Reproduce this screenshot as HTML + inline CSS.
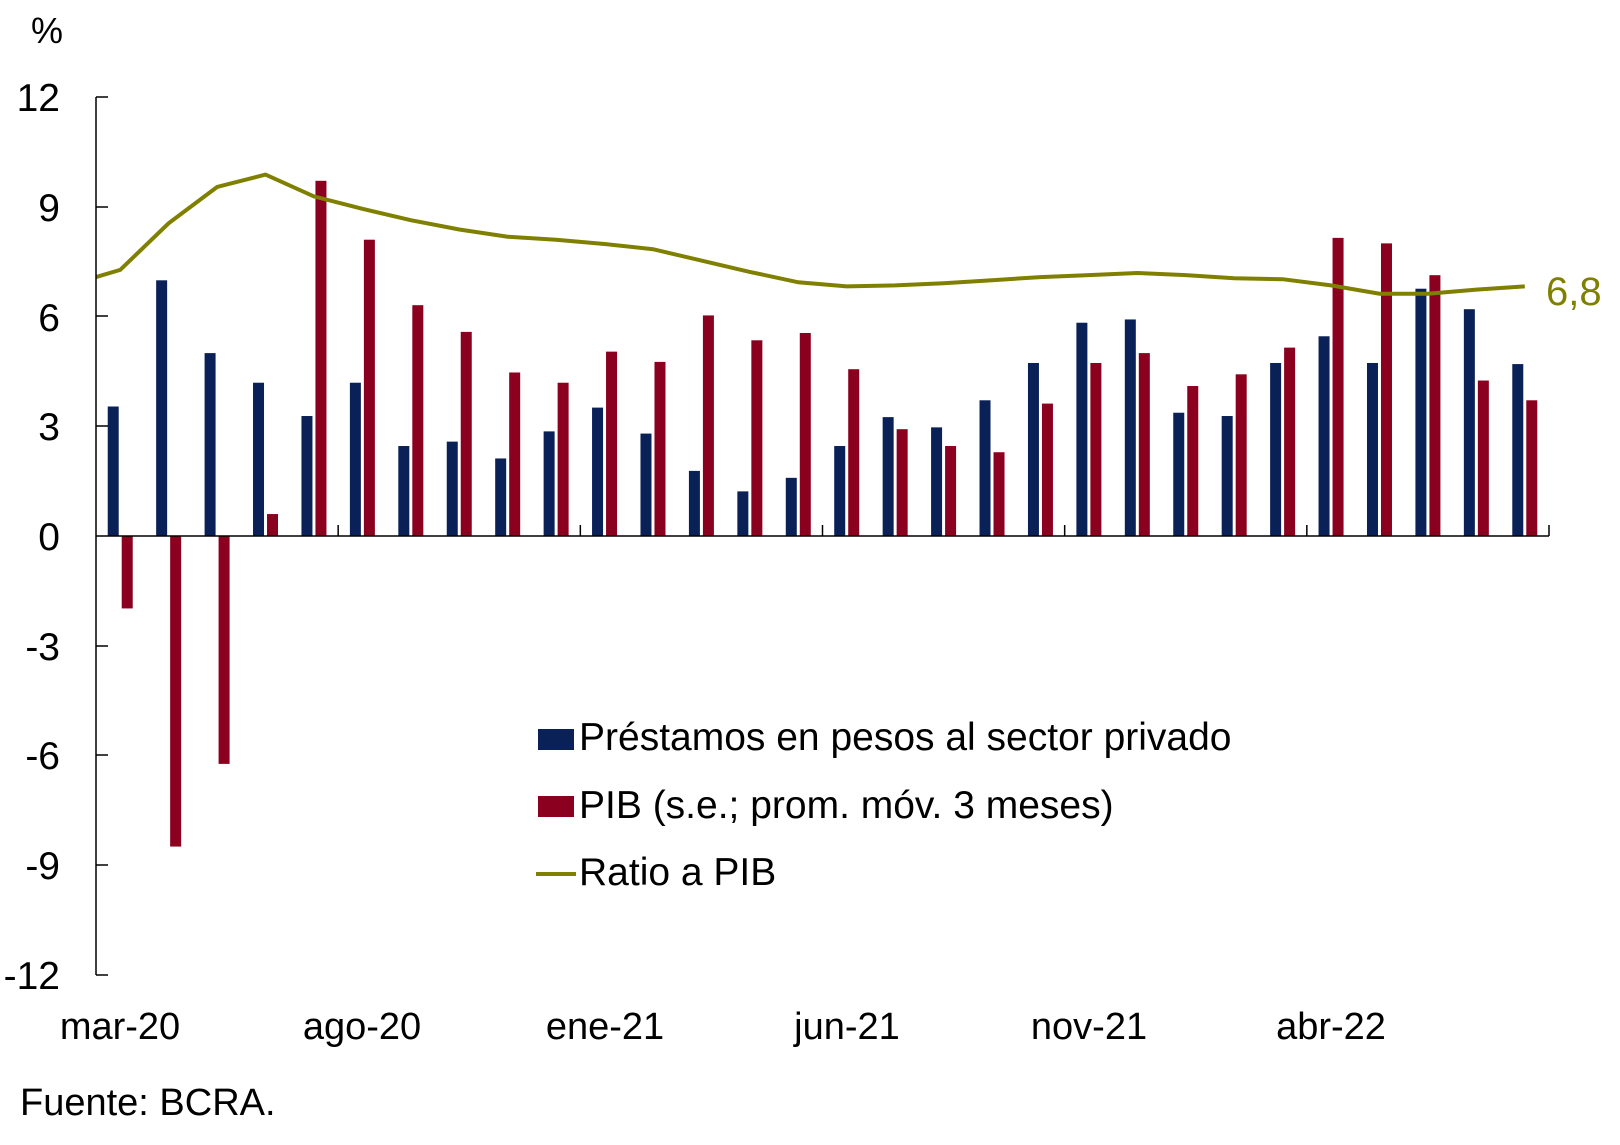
<!DOCTYPE html>
<html><head><meta charset="utf-8"><style>
html,body{margin:0;padding:0;background:#fff;}
svg{display:block;font-family:"Liberation Sans",Arial,sans-serif;}
</style></head><body>
<svg id="c" width="1620" height="1145" xmlns="http://www.w3.org/2000/svg">
<g font-size="39" fill="#000" text-anchor="end">
<text x="60" y="111">12</text>
<text x="60" y="221">9</text>
<text x="60" y="331">6</text>
<text x="60" y="440">3</text>
<text x="60" y="550">0</text>
<text x="60" y="660">-3</text>
<text x="60" y="769">-6</text>
<text x="60" y="879">-9</text>
<text x="60" y="989">-12</text>
</g>
<text x="47" y="43" font-size="36" text-anchor="middle">%</text>
<g font-size="38" text-anchor="middle">
<text x="120" y="1039">mar-20</text>
<text x="362" y="1039">ago-20</text>
<text x="605" y="1039">ene-21</text>
<text x="847" y="1039">jun-21</text>
<text x="1089" y="1039">nov-21</text>
<text x="1331" y="1039">abr-22</text>
</g>
<text x="20" y="1115" font-size="38">Fuente: BCRA.</text>
<g id="plot"></g>
<line x1="96" y1="97" x2="96" y2="975" stroke="#000" stroke-width="1.5"/>
<g stroke="#000" stroke-width="1.5">
<line x1="96" y1="97" x2="108" y2="97"/><line x1="96" y1="207" x2="108" y2="207"/>
<line x1="96" y1="316" x2="108" y2="316"/><line x1="96" y1="426" x2="108" y2="426"/>
<line x1="96" y1="646" x2="108" y2="646"/><line x1="96" y1="755" x2="108" y2="755"/>
<line x1="96" y1="865" x2="108" y2="865"/><line x1="96" y1="975" x2="108" y2="975"/>
</g>
<line x1="96" y1="536" x2="1549" y2="536" stroke="#000" stroke-width="1.5"/>
<g id="ticks" stroke="#000" stroke-width="1.5"></g>
<text x="1546" y="305" font-size="40" fill="#808000">6,8</text>
<rect x="538" y="729" width="36" height="21" fill="#0a2158"/>
<text x="579" y="750" font-size="39">Préstamos en pesos al sector privado</text>
<rect x="538" y="796" width="36" height="21" fill="#8b001f"/>
<text x="579" y="818" font-size="39">PIB (s.e.; prom. móv. 3 meses)</text>
<line x1="536" y1="874" x2="576" y2="874" stroke="#808000" stroke-width="4"/>
<text x="579" y="885" font-size="39">Ratio a PIB</text>
</svg>
<script>
var blue=[3.54,6.99,5.0,4.19,3.28,4.19,2.46,2.58,2.12,2.86,3.51,2.8,1.78,1.22,1.59,2.46,3.25,2.97,3.71,4.73,5.83,5.92,3.37,3.28,4.73,5.46,4.73,6.76,6.2,4.7];
var red=[-1.98,-8.49,-6.23,0.6,9.71,8.1,6.31,5.58,4.47,4.19,5.04,4.76,6.03,5.35,5.55,4.56,2.92,2.46,2.29,3.62,4.73,5.0,4.1,4.42,5.15,8.15,8.0,7.13,4.25,3.71];
var ly=[261,216,181,169,190,202,213,222,229,232,236,241,252,263,273,277,276,274,271,268,266,264,266,269,270,276,284,284,280,277];
var Y=function(v){return 536-v*36.58;};
var g=document.getElementById('plot'),s='';
var step=1453/30;
for(var i=0;i<30;i++){
 var c=96+step*(i+0.5);
 var yb=Y(blue[i]);s+='<rect x="'+(c-12.5)+'" y="'+yb+'" width="11" height="'+(536-yb)+'" fill="#0a2158"/>';
 var yr=Y(red[i]);var t=Math.min(yr,536),h=Math.abs(536-yr);
 s+='<rect x="'+(c+1.5)+'" y="'+t+'" width="11" height="'+h+'" fill="#8b001f"/>';
}
var pts=[[96,536-(518-268)*1.0355]];
for(var i=0;i<30;i++){pts.push([96+step*(i+0.5),536-(518-ly[i])*1.0355]);}
s+='<polyline fill="none" stroke="#808000" stroke-width="4" points="'+pts.map(function(p){return p[0].toFixed(1)+','+p[1].toFixed(1)}).join(' ')+'"/>';
g.innerHTML=s;
var tk='';for(var k=5;k<=30;k+=5){var x=96+step*k;tk+='<line x1="'+x+'" y1="525" x2="'+x+'" y2="536"/>';}
document.getElementById('ticks').innerHTML=tk;
</script>
</body></html>
